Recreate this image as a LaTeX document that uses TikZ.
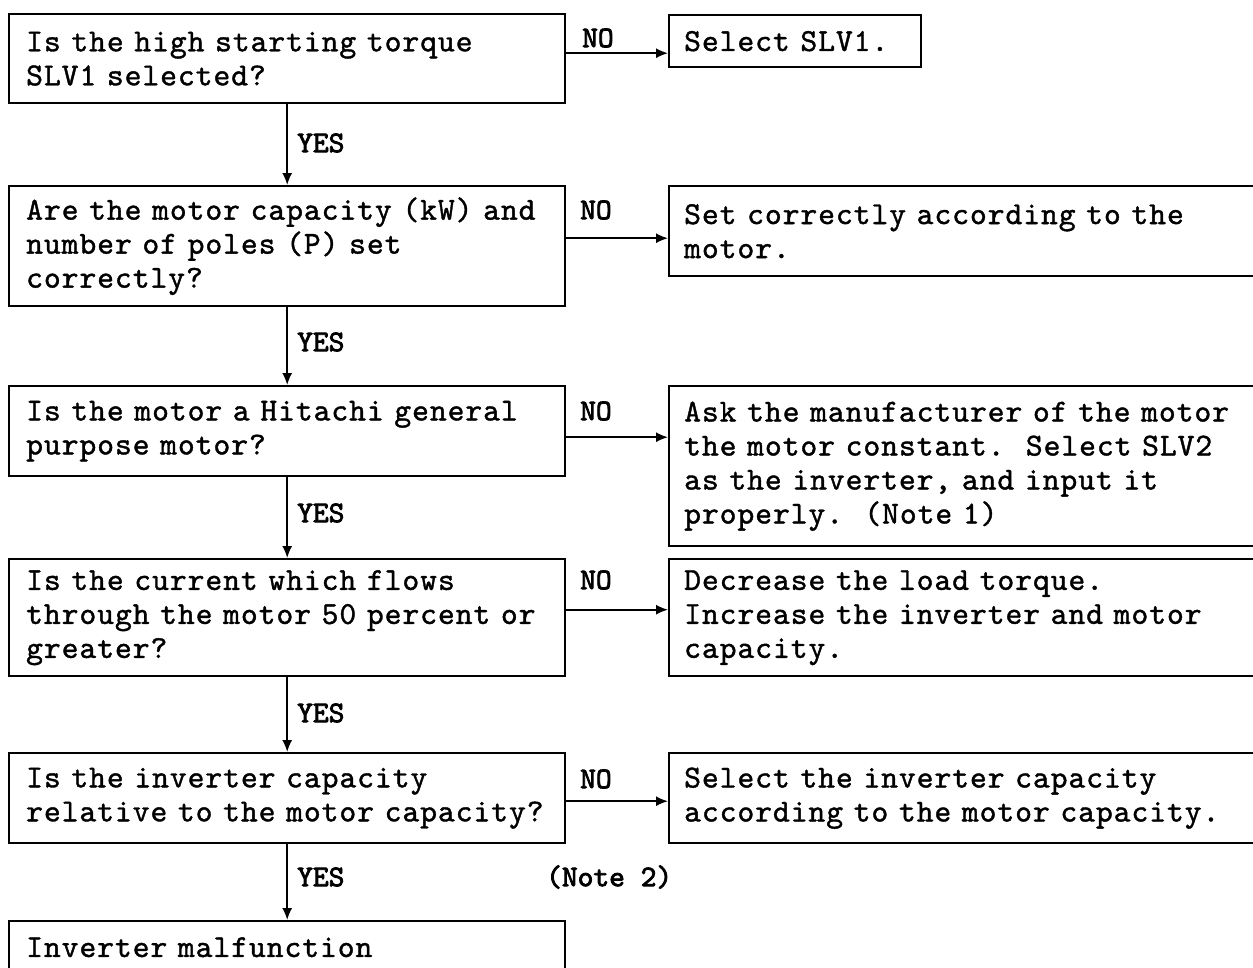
\documentclass[tikz,border=0pt]{standalone}
\usepackage{fontspec}
\usetikzlibrary{arrows.meta}
% typewriter faces for box texts and branch labels
\newfontfamily\tw[FakeBold=1.2,LetterSpace=3]{lmmono10-regular.otf}
\newfontfamily\twl[FakeBold=2.6]{lmmono10-regular.otf}

\begin{document}
\begin{tikzpicture}[x=1pt,y=-1pt,
  box/.style={draw,line width=2.4pt,anchor=north west,inner xsep=17pt,inner ysep=0pt,
              align=left,font=\tw\fontsize{32}{34}\selectfont},
  qbox/.style={box,text width=522pt,minimum width=556pt},
  abox/.style={box,inner xsep=15pt,text width=572pt,minimum width=602pt},
  lbl/.style={anchor=west,inner sep=0pt,font=\twl\fontsize{30}{32}\selectfont},
  arr/.style={line width=1.6pt,-{Latex[length=12pt,width=10pt]}}]

\fill[white] (0,0) rectangle (1253,967);
\useasboundingbox (0,0) rectangle (1253,967);

% question boxes (left column)
\node[qbox,minimum height=89pt]  (q1) at (8,13)  {Is the high starting torque\\SLV1 selected?};
\node[qbox,minimum height=120pt] (q2) at (8,185) {Are the motor capacity (kW) and\\number of poles (P) set\\correctly?};
\node[qbox,minimum height=90pt]  (q3) at (8,385) {Is the motor a Hitachi general\\purpose motor?};
\node[qbox,minimum height=117pt] (q4) at (8,558) {Is the current which flows\\through the motor 50 percent or\\greater?};
\node[qbox,minimum height=90pt]  (q5) at (8,752) {Is the inverter capacity\\relative to the motor capacity?};
\node[qbox,minimum height=52pt]  (q6) at (8,920) {Inverter malfunction};

% remedy boxes (right column)
\node[box,inner xsep=15pt,text width=222pt,minimum width=252pt,minimum height=52pt] (r1) at (668,14) {Select SLV1.};
\node[abox,minimum height=90pt]  (r2) at (668,185) {Set correctly according to the\\motor.};
\node[abox,minimum height=160pt] (r3) at (668,385) {Ask the manufacturer of the motor\\the motor constant.\ \ Select SLV2\\as the inverter, and input it\\properly.\ \ (Note 1)};
\node[abox,minimum height=117pt] (r4) at (668,558) {Decrease the load torque.\\Increase the inverter and motor\\capacity.};
\node[abox,minimum height=90pt]  (r5) at (668,752) {Select the inverter capacity\\according to the motor capacity.};

% NO branches
\coordinate (c1) at ([yshift=5.5pt]q1.east);
\coordinate (c2) at ([yshift=8pt]q2.east);
\coordinate (c3) at ([yshift=-6pt]q3.east);
\coordinate (c4) at ([yshift=8pt]q4.east);
\coordinate (c5) at ([yshift=-3pt]q5.east);
\draw[arr] (c1) -- (c1 -| r1.west);
\draw[arr] (c2) -- (c2 -| r2.west);
\draw[arr] (c3) -- (c3 -| r3.west);
\draw[arr] (c4) -- (c4 -| r4.west);
\draw[arr] (c5) -- (c5 -| r5.west);

% YES branches
\draw[arr] (q1.south) -- (q2.north);
\draw[arr] (q2.south) -- (q3.north);
\draw[arr] (q3.south) -- (q4.north);
\draw[arr] (q4.south) -- (q5.north);
\draw[arr] (q5.south) -- (q6.north);

% branch labels
\node[lbl] (no1) at (582,38)  {NO};
\node[lbl] (no2) at (580,210) {NO};
\node[lbl] (no3) at (580,411) {NO};
\node[lbl] (no4) at (580,580) {NO};
\node[lbl] (no5) at (580,779) {NO};
\node[lbl] (yes1) at (297,143) {YES};
\node[lbl] (yes2) at (297,342) {YES};
\node[lbl] (yes3) at (297,513) {YES};
\node[lbl] (yes4) at (297,713) {YES};
\node[lbl] (yes5) at (297,877) {YES};
\node[lbl] (note2) at (546,877) {(Note 2)};
\end{tikzpicture}
\end{document}
